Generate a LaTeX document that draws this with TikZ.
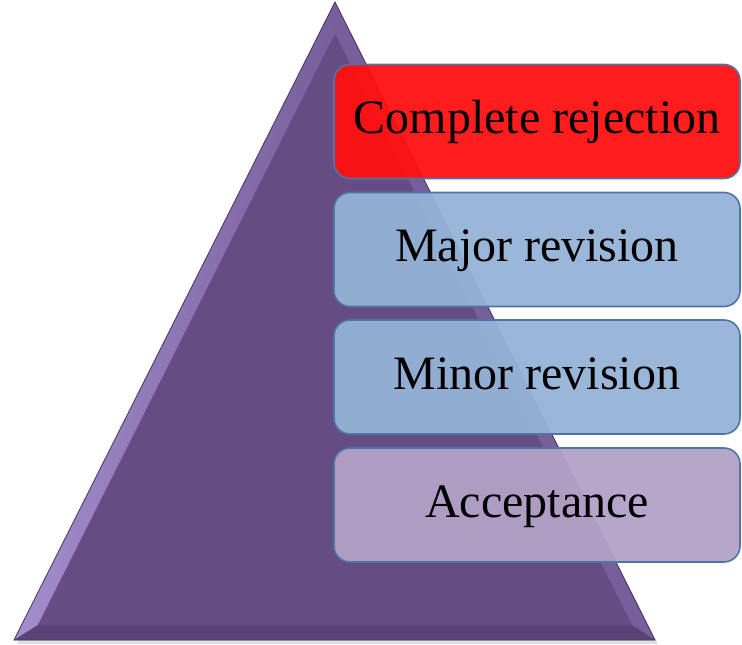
\documentclass[tikz,border=0pt]{standalone}
\usepackage{fontspec}
\setmainfont{Liberation Serif}
\definecolor{tri}{RGB}{101,76,131}
\definecolor{trilight}{RGB}{165,140,205}
\definecolor{trimid}{RGB}{120,95,155}
\definecolor{tridark}{RGB}{90,67,118}
\definecolor{redfill}{RGB}{255,16,16}
\definecolor{bluefill}{RGB}{149,179,215}
\definecolor{purplefill}{RGB}{178,161,199}
\definecolor{boxborder}{RGB}{79,116,165}
\begin{document}
\begin{tikzpicture}[x=1pt,y=-1pt,
  tier/.style={draw=boxborder,line width=1.6pt,rounded corners=16pt,fill opacity=0.95,
    minimum width=406pt,minimum height=114pt,inner sep=0pt,text height=33pt,text depth=9pt,
    font=\fontsize{48}{50}\selectfont,text=black,text opacity=1},
]
\useasboundingbox (0,0) rectangle (742,645);
% shadow
\fill[black!25,opacity=0.5] (337,6) -- (658,644) -- (17,644) -- cycle;
% triangle body
\coordinate (apex) at (335,2);
\coordinate (bl) at (14,640);
\coordinate (br) at (655,640);
\coordinate (iapex) at (335,34);
\coordinate (ibl) at (38,625);
\coordinate (ibr) at (632,625);
\fill[tri] (apex) -- (br) -- (bl) -- cycle;
\shade[left color=trilight,right color=trimid] (apex) -- (iapex) -- (ibl) -- (bl) -- cycle;
\fill[trimid] (apex) -- (br) -- (ibr) -- (iapex) -- cycle;
\fill[tridark] (bl) -- (ibl) -- (ibr) -- (br) -- cycle;
\fill[tri] (iapex) -- (ibr) -- (ibl) -- cycle;
\draw[tridark!80!black,line width=0.8pt] (apex) -- (br) -- (bl) -- cycle;
% tiers
\node[tier,fill=redfill] (t1) at (537,121.5) {Complete rejection};
\node[tier,fill=bluefill] (t2) at (537,249.5) {Major revision};
\node[tier,fill=bluefill] (t3) at (537,377) {Minor revision};
\node[tier,fill=purplefill] (t4) at (537,505) {Acceptance};
\end{tikzpicture}
\end{document}
